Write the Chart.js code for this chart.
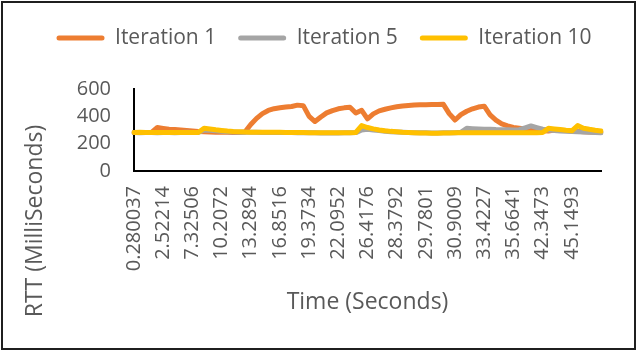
<!DOCTYPE html>
<html><head><meta charset="utf-8">
<script src="https://cdn.jsdelivr.net/npm/chart.js@4"></script>
<style>html,body{margin:0;padding:0;background:#fff}canvas{display:block}</style>
</head><body>
<canvas id="c" width="640" height="353"></canvas>
<script>
// Shown tick labels (every 5th category)
const tickLabels = ['0.280037','2.52214','7.32506','10.2072','13.2894','16.8516','19.3734','22.0952',
  '26.4176','28.3792','29.7801','30.9009','33.4227','35.6641','42.3473','45.1493'];
const labelEvery = 5;

const iteration1 = [282,281,282,283,318,312,306,303,300,297,293,289,287,285,284,283,283,282,282,285,
  340,385,420,443,456,463,468,472,482,478,400,362,395,425,442,455,462,466,424,444,
  382,418,440,452,462,470,476,480,483,484,485,486,487,488,420,373,412,437,455,468,
  474,410,372,345,330,319,313,307,302,298,295,293,300,298,296,293,290,288,286,284,282];
const iteration5 = [281,280,281,282,280,281,282,280,281,283,281,282,300,298,294,290,287,286,284,283,
  283,283,282,282,282,281,281,281,280,280,279,279,278,278,278,278,279,280,281,300,
  305,300,296,290,287,285,283,281,280,279,279,278,278,279,279,280,283,312,310,308,
  306,305,303,302,301,300,302,316,330,318,306,300,296,293,291,289,287,285,283,281,279];
const iteration10 = [282,283,282,282,281,282,282,281,282,282,281,282,313,308,302,297,292,289,287,285,
  284,284,283,283,283,283,282,282,281,281,280,280,279,279,279,279,279,280,282,332,
  318,308,300,294,290,287,284,282,280,278,278,277,277,278,278,279,279,279,280,280,
  280,280,279,279,280,280,280,280,280,280,281,312,308,303,298,294,332,313,305,298,292];

const seriesNames = ['Iteration 1', 'Iteration 5', 'Iteration 10'];
const seriesColors = ['#ED7D31', '#A5A5A5', '#FFC000'];
const xTitle = 'Time (Seconds)';
const yTitle = 'RTT (MilliSeconds)';
const yMin = 0, yMax = 600, yStep = 200;

const categories = iteration1.map((_, i) =>
  i % labelEvery === 0 ? (tickLabels[i / labelEvery] ?? '') : '');

const FONT = "'Open Sans', sans-serif";
const TEXT = '#595959';
Chart.defaults.font.family = FONT;

const framePlugin = {
  id: 'frame',
  beforeDraw(chart) {
    const c = chart.ctx;
    c.save(); c.fillStyle = '#fff'; c.fillRect(0, 0, chart.width, chart.height); c.restore();
  },
  afterDraw(chart) {
    const c = chart.ctx;
    c.save();
    // y axis title
    c.translate(35, (chart.chartArea.top + chart.height) / 2);
    c.rotate(-Math.PI / 2);
    c.font = "23px " + FONT;
    c.fillStyle = TEXT;
    c.textAlign = 'center';
    c.textBaseline = 'middle';
    c.fillText(yTitle, 0, 0);
    c.restore();
    c.save();
    c.strokeStyle = '#1f1f1f';
    c.lineWidth = 2;
    c.strokeRect(2, 2, chart.width - 7, chart.height - 6);
    c.restore();
  }
};

const datasets = [iteration1, iteration5, iteration10].map((d, i) => ({
  label: seriesNames[i],
  data: d,
  borderColor: seriesColors[i],
  backgroundColor: seriesColors[i],
  order: 2 - i
}));

new Chart(document.getElementById('c'), {
  type: 'line',
  data: { labels: categories, datasets },
  options: {
    responsive: false,
    animation: false,
    devicePixelRatio: 1,
    layout: { padding: { left: 8, right: 0, top: 5.5, bottom: 5 } },
    elements: {
      line: { borderWidth: 5, tension: 0, borderCapStyle: 'round', borderJoinStyle: 'round' },
      point: { radius: 0, hoverRadius: 0 }
    },
    plugins: {
      legend: {
        position: 'top',
        weight: 3000,
        labels: {
          boxWidth: 48, boxHeight: 5, padding: 22, color: TEXT,
          font: { size: 21 },
          generateLabels: chart => chart.data.datasets.map((d, i) => ({
            text: d.label, fillStyle: d.borderColor, strokeStyle: d.borderColor,
            lineWidth: 0, borderRadius: 2.5, hidden: false, datasetIndex: i, fontColor: TEXT
          }))
        }
      },
      title: { display: true, text: '', padding: { top: 0, bottom: 20.5 }, font: { size: 10, lineHeight: 1 } },
      tooltip: { enabled: false }
    },
    scales: {
      x: {
        type: 'category',
        offset: false,
        grid: { display: false, drawTicks: false },
        border: { display: true, color: '#000', width: 2 },
        ticks: { autoSkip: false, maxRotation: 90, minRotation: 90, padding: 15, color: TEXT, font: { size: 20 } },
        title: { display: true, text: xTitle, color: TEXT, font: { size: 23 }, padding: { top: 10, bottom: 32.2 } },
        afterFit: s => { s.height = 177; }
      },
      y: {
        min: yMin, max: yMax,
        grid: { display: false, drawTicks: false },
        border: { display: true, color: '#000', width: 2 },
        ticks: { stepSize: yStep, autoSkip: false, padding: 23, color: TEXT, font: { size: 20 } },
        afterFit: s => { s.width = 126; }
      },
      spacer: {
        type: 'linear', position: 'right', display: true,
        grid: { display: false, drawTicks: false },
        border: { display: false },
        ticks: { display: false },
        afterFit: s => { s.width = 32; }
      }
    }
  },
  plugins: [framePlugin]
});
</script>
</body></html>
